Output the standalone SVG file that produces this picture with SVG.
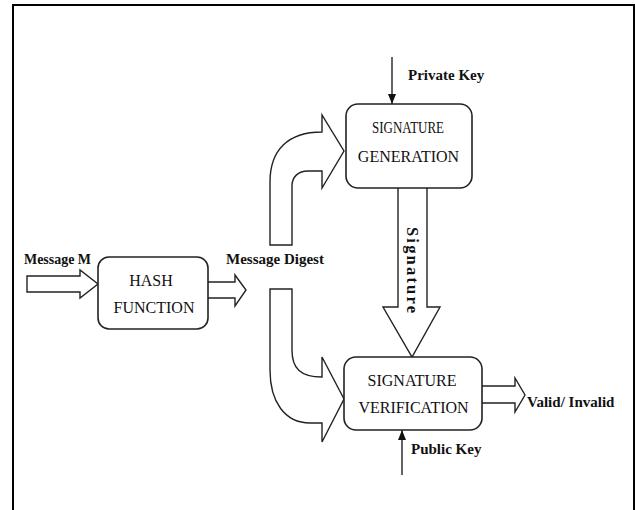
<svg xmlns="http://www.w3.org/2000/svg" width="635" height="510" viewBox="0 0 635 510">
<defs>
<marker id="ah" viewBox="0 0 10 10" refX="10" refY="5" markerWidth="10" markerHeight="10" markerUnits="userSpaceOnUse" orient="auto">
<path d="M0,1 L10,5 L0,9 Z" fill="#111"/>
</marker>
</defs>
<style>
.box{fill:#fff;stroke:#222;stroke-width:1.6}
.big{fill:#fff;stroke:#222;stroke-width:1.4;stroke-linejoin:miter}
.ln{stroke:#111;stroke-width:1.3;fill:none}
.bl{font-family:"Liberation Serif","Times New Roman",serif;font-size:16px;fill:#111;text-anchor:middle}
.lb{font-family:"Liberation Serif","Times New Roman",serif;font-size:15px;font-weight:bold;fill:#111}
</style>
<rect width="635" height="510" fill="#fff"/>
<path d="M13,510 L13,5 L634,5 L634,510" fill="none" stroke="#000" stroke-width="2"/>
<g id="connectors">
<path class="big" d="M27,276 L80,276 L80,270 L98,284 L80,298 L80,292 L27,292 Z"/>
<path class="big" d="M208,282 L235,282 L235,275 L246,290 L235,306 L235,298 L208,298"/>
<path class="big" d="M270,245 L270,182 C270,150 288,132 322,132 L322,115 L344,151 L322,188 L322,171 L308,171 C298,171 292,177 292,186 L292,245 Z"/>
<path class="big" d="M270,289 L292,289 L292,350 C292,368 300,377 322,377 L322,357 L344,399 L322,442 L322,423 L310,423 C285,423 270,402 270,370 Z"/>
<path class="big" d="M398,188 L398,307 L383,307 L412,357 L440,307 L427,307 L427,188"/>
<path class="big" d="M482,386 L515,386 L515,378 L525,395 L515,412 L515,403 L482,403"/>
<line class="ln" x1="392" y1="57" x2="392" y2="104" marker-end="url(#ah)"/>
<line class="ln" x1="402" y1="475" x2="402" y2="430" marker-end="url(#ah)"/>
<text class="lb" style="font-size:16.5px" transform="translate(407,227) rotate(90)" textLength="86">Signature</text>
</g>
<g id="hash">
<rect class="box" x="98" y="257" width="110" height="72" rx="11"/>
<text class="bl" x="151" y="286">HASH</text>
<text class="bl" x="154" y="313">FUNCTION</text>
</g>
<g id="siggen">
<rect class="box" x="346" y="104" width="126" height="84" rx="12"/>
<text class="bl" x="408" y="133" textLength="72" lengthAdjust="spacingAndGlyphs">SIGNATURE</text>
<text class="bl" x="408.5" y="162">GENERATION</text>
</g>
<g id="sigver">
<rect class="box" x="344" y="357" width="138" height="73" rx="12"/>
<text class="bl" x="412" y="386">SIGNATURE</text>
<text class="bl" x="413.5" y="413">VERIFICATION</text>
</g>
<g id="labels">
<text class="lb" x="24" y="264" textLength="67" lengthAdjust="spacingAndGlyphs">Message M</text>
<text class="lb" x="226" y="264">Message Digest</text>
<text class="lb" x="408" y="80">Private Key</text>
<text class="lb" x="411" y="454">Public Key</text>
<text class="lb" x="527" y="407">Valid/ Invalid</text>
</g>
</svg>
